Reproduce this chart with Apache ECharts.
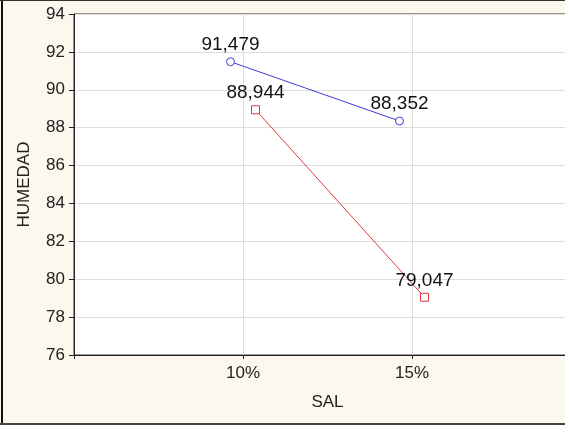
<!DOCTYPE html>
<html>
<head>
<meta charset="utf-8">
<script src="https://cdn.jsdelivr.net/npm/echarts@6/dist/echarts.min.js"></script>
<style>
html,body{margin:0;padding:0;background:#fdf8ee;}
#c{width:565px;height:425px;}
</style>
</head>
<body>
<div id="c"></div>
<script>
const categories = ['10%', '15%'];
const seriesBlue = [91.479, 88.352];
const seriesRed = [88.944, 79.047];
const yMin = 76, yMax = 94, yStep = 2;
const dodge = 0.074;

function fmt(v) { return v.toFixed(3).replace('.', ','); }

const FONT = 'Liberation Sans, Arial, sans-serif';
const chart = echarts.init(document.getElementById('c'), null, {renderer: 'canvas'});
const lblStyle = {show: true, position: 'top', distance: 3, fontFamily: FONT, fontSize: 19, color: '#111',
  formatter: p => fmt(p.value[1])};

chart.setOption({
  animation: false,
  backgroundColor: '#fdf8ee',
  grid: {left: 74, top: 14, width: 507, height: 341, outerBoundsMode: 'none', containLabel: false,
    show: true, backgroundColor: '#ffffff', borderColor: '#333', borderWidth: 1},
  xAxis: {
    type: 'value', min: 0, max: categories.length + 1, interval: 1,
    name: 'SAL', nameLocation: 'middle', nameGap: 39,
    nameTextStyle: {fontFamily: FONT, fontSize: 17, color: '#222'},
    axisLine: {lineStyle: {color: '#222', width: 1}},
    axisTick: {show: true, length: 4, lineStyle: {color: '#222'}},
    axisLabel: {margin: 10, fontFamily: FONT, fontSize: 17, color: '#222',
      formatter: v => (v >= 1 && v <= categories.length) ? categories[v - 1] : ''},
    splitLine: {show: true, lineStyle: {color: '#dcdcdc', width: 1}}
  },
  yAxis: {
    type: 'value', min: yMin, max: yMax, interval: yStep,
    name: 'HUMEDAD', nameLocation: 'middle', nameGap: 41,
    nameTextStyle: {fontFamily: FONT, fontSize: 17, color: '#222'},
    axisLine: {show: true, lineStyle: {color: '#222', width: 1}},
    axisTick: {show: true, length: 5, lineStyle: {color: '#222'}},
    axisLabel: {margin: 9, fontFamily: FONT, fontSize: 17, color: '#222'},
    splitLine: {show: true, lineStyle: {color: '#dcdcdc', width: 1}}
  },
  graphic: [
    {type: 'rect', shape: {x: 1, y: 0, width: 2, height: 425}, style: {fill: '#111'}, z: 100},
    {type: 'rect', shape: {x: 0, y: 0, width: 565, height: 1}, style: {fill: '#333'}, z: 100},
    {type: 'rect', shape: {x: 0, y: 423, width: 565, height: 2}, style: {fill: '#444'}, z: 100}
  ],
  series: [
    {
      type: 'line', name: 'blue',
      data: seriesBlue.map((v, i) => [i + 1 - dodge, v]),
      symbol: 'circle', symbolSize: 8,
      lineStyle: {color: '#3d3dd8', width: 1},
      itemStyle: {color: '#ffffff', borderColor: '#3d3dd8', borderWidth: 1},
      label: lblStyle
    },
    {
      type: 'line', name: 'red',
      data: seriesRed.map((v, i) => [i + 1 + dodge, v]),
      symbol: 'rect', symbolSize: 8,
      lineStyle: {color: '#e23a3e', width: 1},
      itemStyle: {color: '#ffffff', borderColor: '#e23a3e', borderWidth: 1},
      label: lblStyle
    }
  ]
});
</script>
</body>
</html>
